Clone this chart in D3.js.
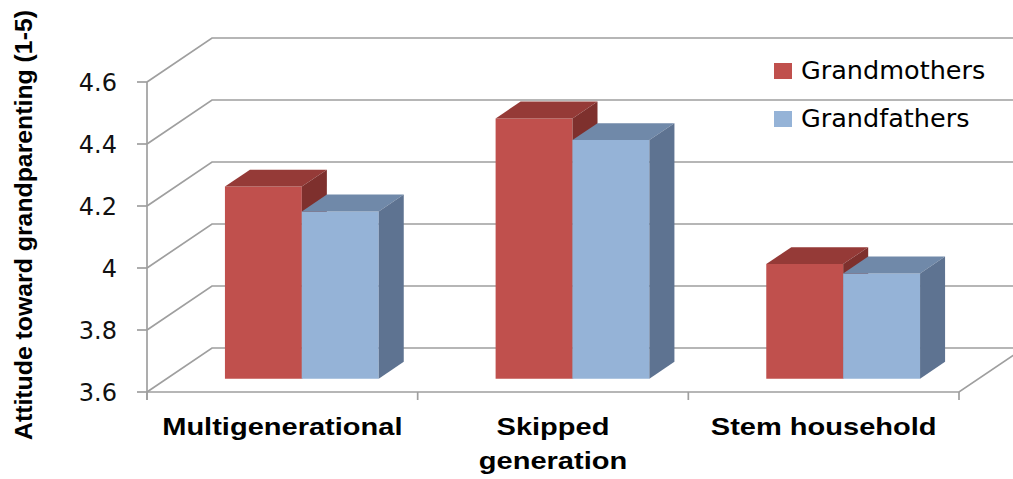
<!DOCTYPE html>
<html>
<head>
<meta charset="utf-8">
<script src="https://cdn.jsdelivr.net/npm/d3@7"></script>
<style>
  html, body { margin: 0; padding: 0; background: #fff; }
  svg { display: block; }
</style>
</head>
<body>
<svg id="chart" width="1013" height="479"></svg>
<script>
// Household types along the x axis
const categories = ["Multigenerational", "Skipped generation", "Stem household"];
const categoryLines = [["Multigenerational"], ["Skipped", "generation"], ["Stem household"]];
// Mean attitude scores (1-5 scale)
const grandmothers = [4.22, 4.44, 3.97];
const grandfathers = [4.14, 4.37, 3.94];
const seriesNames = ["Grandmothers", "Grandfathers"];
// Value axis ticks
const yTicks = [3.6, 3.8, 4, 4.2, 4.4, 4.6];
const yTitle = "Attitude toward grandparenting (1-5)";

const series = [
  { name: seriesNames[0], values: grandmothers, front: "#C0504D", top: "#953A37", side: "#7E302D" },
  { name: seriesNames[1], values: grandfathers, front: "#95B3D7", top: "#7089A9", side: "#5E7391" }
];

const svg = d3.select("#chart");

// Front plane of the 3-D box and its depth offset
const plotLeft = 147, plotRight = 959, plotBottom = 392, plotTop = 82;
const DX = 65, DY = -44;           // full depth of the plot box
const proj = (x, yy, d) => [x + d * DX, yy + d * DY];

const y = d3.scaleLinear().domain([3.6, 4.6]).range([plotBottom, plotTop]);
const x0 = d3.scaleBand().domain(categories).range([plotLeft, plotRight]);
const x1 = d3.scaleBand().domain(seriesNames).range([0, x0.bandwidth()])
  .paddingInner(0).paddingOuter(0.76);

const gridColor = "#9f9f9f";
const grid = svg.append("g").attr("fill", "none").attr("stroke", gridColor).attr("stroke-width", 1.7);

// Back wall gridlines and side wall diagonals
yTicks.forEach(t => {
  const a = proj(plotLeft, y(t), 0), b = proj(plotLeft, y(t), 1);
  grid.append("path").attr("d", `M${a[0]},${a[1]}L${b[0]},${b[1]}L${proj(plotRight, y(t), 1)[0]},${b[1]}`);
});

// Floor: front edge and right edge
const fr = proj(plotRight, plotBottom, 0), br = proj(plotRight, plotBottom, 1);
grid.append("path").attr("d", `M${plotLeft},${plotBottom}L${fr[0]},${fr[1]}L${br[0]},${br[1]}`);

// Value axis line and ticks
grid.append("line").attr("x1", plotLeft).attr("x2", plotLeft).attr("y1", plotTop).attr("y2", plotBottom + 8);
yTicks.forEach(t => {
  grid.append("line").attr("x1", plotLeft - 10).attr("x2", plotLeft).attr("y1", y(t)).attr("y2", y(t));
});
// Category separators below the floor
categories.map(c => x0(c)).concat([plotRight]).forEach(xx => {
  grid.append("line").attr("x1", xx).attr("x2", xx).attr("y1", plotBottom).attr("y2", plotBottom + 8);
});

// Bars as boxes: front face at depth d0, back at d1
const d0 = 0.3, d1 = 0.685;
const bars = svg.append("g");
const poly = pts => "M" + pts.map(p => p.join(",")).join("L") + "Z";
categories.forEach((c, ci) => {
  series.forEach(s => {
    const v = s.values[ci];
    const xl = x0(c) + x1(s.name), xr = xl + x1.bandwidth();
    const yb = y(3.6), yt = y(v);
    const fl = proj(xl, yt, d0), frt = proj(xr, yt, d0), frb = proj(xr, yb, d0), flb = proj(xl, yb, d0);
    const bl = proj(xl, yt, d1), brt = proj(xr, yt, d1), brb = proj(xr, yb, d1);
    bars.append("path").attr("d", poly([fl, frt, frb, flb])).attr("fill", s.front);
    bars.append("path").attr("d", poly([fl, bl, brt, frt])).attr("fill", s.top);
    bars.append("path").attr("d", poly([frt, brt, brb, frb])).attr("fill", s.side);
  });
});

// Tick labels
svg.append("g").selectAll("text").data(yTicks).join("text")
  .attr("x", 117).attr("y", t => y(t) + 8.5)
  .attr("text-anchor", "end")
  .attr("font-family", "DejaVu Sans, sans-serif").attr("font-size", 24)
  .attr("fill", "#111")
  .text(t => String(t));

// Category labels (bold, may wrap to two lines)
const catG = svg.append("g");
categories.forEach((c, ci) => {
  const cx = x0(c) + x0.bandwidth() / 2;
  categoryLines[ci].forEach((line, li) => {
    catG.append("text")
      .attr("transform", `translate(${cx},${435 + li * 34}) scale(1.21,1)`)
      .attr("text-anchor", "middle")
      .attr("font-family", "Liberation Sans, Arial, sans-serif")
      .attr("font-weight", "bold").attr("font-size", 24)
      .attr("fill", "#000")
      .text(line);
  });
});

// Axis title
svg.append("text")
  .attr("transform", "translate(32,225) rotate(-90)")
  .attr("text-anchor", "middle")
  .attr("font-family", "Liberation Sans, Arial, sans-serif")
  .attr("font-weight", "bold").attr("font-size", 23)
  .attr("textLength", 430).attr("lengthAdjust", "spacingAndGlyphs")
  .attr("fill", "#000")
  .text(yTitle);

// Legend
const legend = svg.append("g");
series.forEach((s, i) => {
  const ly = 63 + i * 48;
  legend.append("rect").attr("x", 774).attr("y", ly).attr("width", 18).attr("height", 16).attr("fill", s.front);
  legend.append("text").attr("x", 801).attr("y", ly + 16)
    .attr("font-family", "DejaVu Sans, sans-serif").attr("font-size", 25.5)
    .attr("fill", "#000")
    .text(s.name);
});
</script>
</body>
</html>
